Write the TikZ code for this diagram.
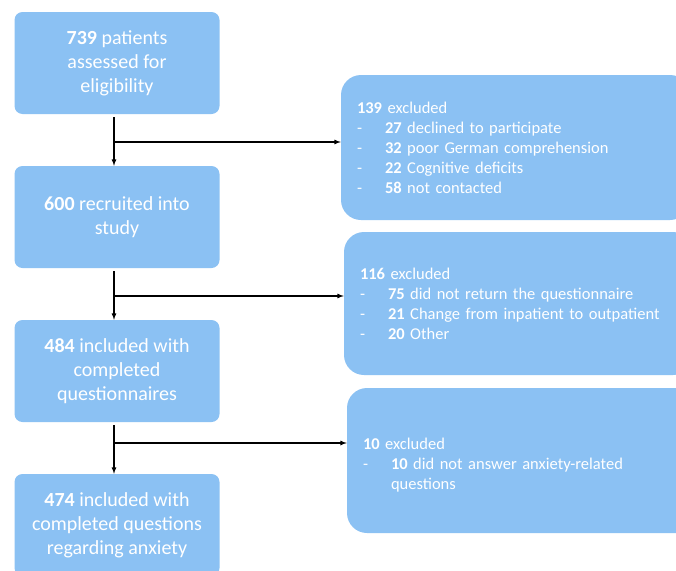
\documentclass[tikz,border=0pt]{standalone}
\usepackage{fontspec}
\setmainfont{Carlito}
\usetikzlibrary{positioning}
\usetikzlibrary{arrows}
\definecolor{boxblue}{RGB}{139,193,243}
\newcommand{\itm}[1]{\makebox[28pt][l]{-}#1}

\begin{document}
\begin{tikzpicture}[x=1pt, y=-1pt, >=latex,
	stage/.style={rectangle, rounded corners=8pt, fill=boxblue, text=white, minimum width=205pt, minimum height=102pt, align=center, font=\fontsize{20}{24}\selectfont},
	excl/.style={rectangle, rounded corners=20pt, fill=boxblue, text=white, text width=317pt, inner xsep=16pt, minimum height=145pt, align=left, font=\fontsize{16.5}{20}\selectfont}]
				\useasboundingbox (0,0) rectangle (676,570);
				\clip (0,0) rectangle (676,570);
				
				\node[stage] (A) at (117,63) {\textbf{739} patients\\assessed for\\eligibility};
				\node[stage] (B) at (117,217) {\textbf{600} recruited into\\study};
				\node[stage] (C) at (117,371) {\textbf{484} included with\\completed\\questionnaires};
				\node[stage] (D) at (117,525) {\textbf{474} included with\\completed questions\\regarding anxiety};
				
				\node[excl] (E) at (515.5,147.5) {\textbf{139} excluded\\
					\itm{\textbf{27} declined to participate}\\
					\itm{\textbf{32} poor German comprehension}\\
					\itm{\textbf{22} Cognitive deficits}\\
					\itm{\textbf{58} not contacted}};
				\node[excl, minimum height=143pt] (F) at (518.5,303.5) {\textbf{116} excluded\\
					\itm{\textbf{75} did not return the questionnaire}\\
					\itm{\textbf{21} Change from inpatient to outpatient}\\
					\itm{\textbf{20} Other}};
				\node[excl] (G) at (521.5,460.5) {\rule{0pt}{20pt}\textbf{10} excluded\\
					\itm{\textbf{10} did not answer anxiety-related}\\
					\hspace*{28pt}questions};
				
				\coordinate (AB) at (114,142);
				\coordinate (BC) at (114,296);
				\coordinate (CD) at (114,443);
				
				\draw[very thick, ->, shorten <=3pt]  (A.south -| AB) -- (B.north -| AB);
				\draw[very thick, ->, shorten <=3pt]  (B.south -| BC) -- (C.north -| BC);
				\draw[very thick, ->, shorten <=3pt]  (C.south -| CD) -- (D.north -| CD);
				\draw[very thick, ->]  (AB) -- (AB -| E.west);
				\draw[very thick, ->]  (BC) -- (BC -| F.west);
				\draw[very thick, ->]  (CD) -- (CD -| G.west);
			\end{tikzpicture}
\end{document}
